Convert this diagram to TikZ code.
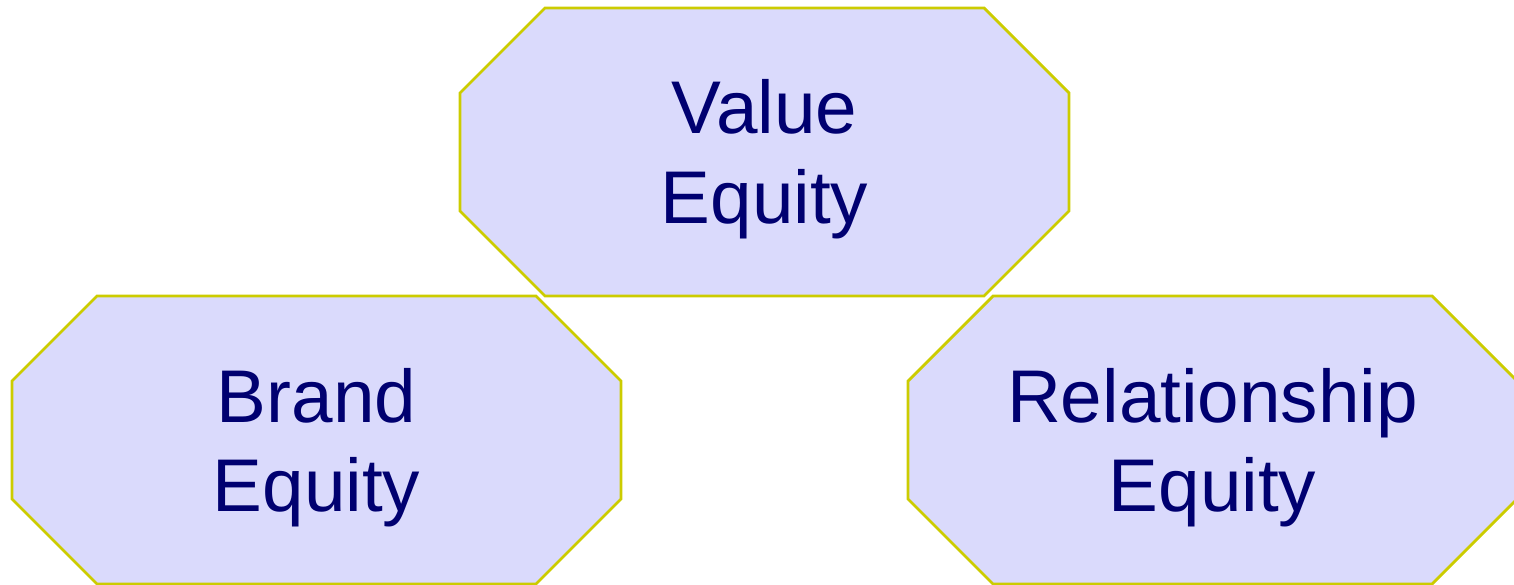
\documentclass[tikz,border=0pt]{standalone}
\usepackage{fontspec}
\setmainfont{Liberation Sans}
\usepackage{tikz}
\usetikzlibrary{positioning}
\definecolor{eqfill}{RGB}{218,218,252}
\definecolor{eqline}{RGB}{204,204,0}
\definecolor{eqtext}{RGB}{0,0,112}

\begin{document}
\begin{tikzpicture}[font=\fontsize{42.5}{51}\selectfont]
  \useasboundingbox (0,0) rectangle (30.28,-11.7);
  \tikzset{equity/.style={draw=eqline, line width=1.6pt, fill=eqfill},
    eqlabel/.style={text=eqtext, align=center, inner sep=0pt}}
  \coordinate (value) at (15.29,-3.04);
  \coordinate (brand) at (6.33,-8.8);
  \coordinate (relation) at (24.25,-8.8);
  % chamfered boxes
  \foreach \c in {value,brand,relation}
    \path[equity] (\c) ++(-6.09,1.18) -- ++(0,-2.36) -- ++(1.7,-1.7) -- ++(8.78,0)
      -- ++(1.7,1.7) -- ++(0,2.36) -- ++(-1.7,1.7) -- ++(-8.78,0) -- cycle;
  \node[eqlabel] (valuetext) at ([yshift=-0.15cm]value) {Value\\Equity};
  \node[eqlabel] (brandtext) at ([yshift=-0.15cm]brand) {Brand\\Equity};
  \node[eqlabel] (relationtext) at ([yshift=-0.15cm]relation) {Relationship\\Equity};
\end{tikzpicture}
\end{document}
